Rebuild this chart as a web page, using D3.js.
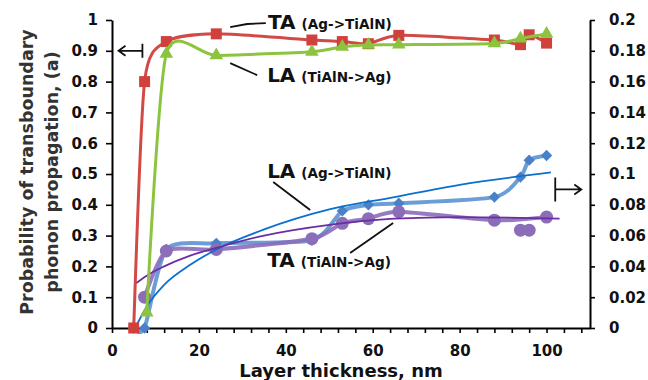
<!DOCTYPE html>
<html>
<head>
<meta charset="utf-8">
<script src="https://cdn.jsdelivr.net/npm/d3@7"></script>
<style>
  body { margin: 0; background: #fff; }
  svg text { font-family: "DejaVu Sans", sans-serif; font-weight: bold; }
</style>
</head>
<body>
<svg id="chart" width="648" height="380"></svg>
<script>
// TA (Ag->TiAlN), left axis
const taAgX = [5, 7.5, 12.5, 24, 46, 53, 59, 66, 88, 94, 96, 100];
const taAgY = [0, 0.8, 0.93, 0.955, 0.935, 0.93, 0.923, 0.95, 0.935, 0.92, 0.952, 0.925];
// LA (TiAlN->Ag), left axis
const laTiX = [8, 12.5, 24, 46, 53, 59, 66, 88, 94, 100];
const laTiY = [0.05, 0.89, 0.885, 0.897, 0.913, 0.919, 0.92, 0.924, 0.94, 0.955];
// LA (Ag->TiAlN), right axis
const laAgX = [5, 7.5, 12.5, 24, 46, 53, 59, 66, 88, 94, 96, 100];
const laAgY = [0, 0, 0.051, 0.055, 0.057, 0.076, 0.08, 0.081, 0.085, 0.098, 0.109, 0.112];
// TA (TiAlN->Ag), right axis
const taTiX = [7.5, 12.5, 24, 46, 53, 59, 66, 88, 100];
const taTiY = [0.02, 0.05, 0.051, 0.058, 0.068, 0.071, 0.0755, 0.07, 0.072];
const taTiExtraX = [94, 96];
const taTiExtraY = [0.0635, 0.0635];
// trend lines (right axis)
const blueTrendX = [5.5, 8, 12, 18, 24, 35, 50, 65, 80, 101];
const blueTrendY = [0.001, 0.014, 0.028, 0.041, 0.051, 0.064, 0.077, 0.085, 0.093, 0.101];
const purpleTrendX = [5.5, 8, 12, 18, 24, 35, 50, 65, 80, 103];
const purpleTrendY = [0.029, 0.034, 0.040, 0.047, 0.052, 0.060, 0.067, 0.071, 0.072, 0.071];

const xTicks = d3.range(0, 109, 4);
const yLeftTicks = d3.range(0, 11).map(d => d / 10);
const yRightTicks = d3.range(0, 11).map(d => d / 50);

const svg = d3.select('#chart');

const x = d3.scaleLinear().domain([0, 110]).range([112, 590]);
const yL = d3.scaleLinear().domain([0, 1]).range([328, 20]);
const yR = d3.scaleLinear().domain([0, 0.2]).range([328, 20]);

const zip = (xs, ys) => xs.map((v, i) => [v, ys[i]]);

// axes
const gx = svg.append('g')
  .attr('transform', `translate(0,${yL(0)})`)
  .call(d3.axisBottom(x).tickValues(xTicks).tickSize(5).tickSizeOuter(0).tickPadding(12)
    .tickFormat(d => d % 20 === 0 ? d : ''));
const gl = svg.append('g')
  .attr('transform', `translate(${x(0)},0)`)
  .call(d3.axisLeft(yL).tickValues(yLeftTicks).tickSize(6).tickSizeOuter(0).tickPadding(8)
    .tickFormat(d => +d.toFixed(1)));
const gr = svg.append('g')
  .attr('transform', `translate(${x(110)},0)`)
  .call(d3.axisRight(yR).tickValues(yRightTicks).tickSize(5).tickSizeOuter(0).tickPadding(14)
    .tickFormat(d => +d.toFixed(2)));

[gx, gl, gr].forEach(g => {
  g.select('.domain').attr('stroke', '#000').attr('stroke-width', 2);
  g.selectAll('.tick line').attr('stroke', '#000').attr('stroke-width', 1.6);
  g.selectAll('.tick text').attr('fill', '#111').style('font-size', '15px');
});

// axis titles
svg.append('text')
  .attr('x', 341).attr('y', 377)
  .attr('text-anchor', 'middle')
  .style('font-size', '18px')
  .attr('fill', '#111')
  .text('Layer thickness, nm');

const yTitle = svg.append('text')
  .attr('transform', 'translate(0,172) rotate(-90)')
  .attr('text-anchor', 'middle')
  .style('font-size', '17.5px')
  .attr('fill', '#333');
yTitle.append('tspan').attr('x', 0).attr('y', 33).text('Probability of transboundary');
yTitle.append('tspan').attr('x', 0).attr('y', 58).text('phonon propagation, (a)');

// lines
const smooth = (ys) => d3.line().x(d => x(d[0])).y(d => ys(d[1])).curve(d3.curveCardinal.tension(0.3));
const trend = (ys) => d3.line().x(d => x(d[0])).y(d => ys(d[1])).curve(d3.curveMonotoneX);

// blue thick
svg.append('path')
  .attr('d', smooth(yR)(zip(laAgX, laAgY)))
  .attr('fill', 'none').attr('stroke', '#5b93d3').attr('stroke-width', 4).attr('opacity', 0.9);
// purple thick
svg.append('path')
  .attr('d', smooth(yR)(zip(taTiX, taTiY)))
  .attr('fill', 'none').attr('stroke', '#8c6dbb').attr('stroke-width', 4).attr('opacity', 0.9);

svg.append('g').selectAll('path')
  .data(zip(laAgX, laAgY))
  .join('path')
  .attr('d', d3.symbol(d3.symbolSquare, 64))
  .attr('transform', d => `translate(${x(d[0])},${yR(d[1])}) rotate(45)`)
  .attr('fill', '#4a80c6');

svg.append('g').selectAll('circle')
  .data(zip(taTiX, taTiY).concat(zip(taTiExtraX, taTiExtraY)))
  .join('circle')
  .attr('cx', d => x(d[0])).attr('cy', d => yR(d[1]))
  .attr('r', 6.5)
  .attr('fill', '#8b6db8');

// trend lines
svg.append('path')
  .attr('d', trend(yR)(zip(blueTrendX, blueTrendY)))
  .attr('fill', 'none').attr('stroke', '#0a70cf').attr('stroke-width', 1.8);
svg.append('path')
  .attr('d', trend(yR)(zip(purpleTrendX, purpleTrendY)))
  .attr('fill', 'none').attr('stroke', '#6b2da1').attr('stroke-width', 1.8);

// red TA (Ag->TiAlN)
svg.append('path')
  .attr('d', smooth(yL)(zip(taAgX, taAgY)))
  .attr('fill', 'none').attr('stroke', '#d24a46').attr('stroke-width', 3);
svg.append('g').selectAll('path')
  .data(zip(taAgX, taAgY))
  .join('path')
  .attr('d', d3.symbol(d3.symbolSquare, 121))
  .attr('transform', d => `translate(${x(d[0])},${yL(d[1])})`)
  .attr('fill', '#d0413d');

// green LA (TiAlN->Ag)
svg.append('path')
  .attr('d', smooth(yL)(zip(laTiX, laTiY)))
  .attr('fill', 'none').attr('stroke', '#8cc43f').attr('stroke-width', 3);
svg.append('g').selectAll('path')
  .data(zip(laTiX, laTiY))
  .join('path')
  .attr('d', d3.symbol(d3.symbolTriangle, 80))
  .attr('transform', d => `translate(${x(d[0])},${yL(d[1])})`)
  .attr('fill', '#8cc43f');

// annotations (data coordinates on the left scale)
const leaders = [
  [[27.2, 0.977], [31.1, 0.987], [35.4, 0.99]],
  [[27.2, 0.86], [33.4, 0.821]],
  [[37.1, 0.474], [45.6, 0.383]],
  [[54.8, 0.2435], [64.7, 0.341]]
];
svg.append('g').selectAll('path')
  .data(leaders)
  .join('path')
  .attr('d', d3.line().x(d => x(d[0])).y(d => yL(d[1])))
  .attr('fill', 'none').attr('stroke', '#111').attr('stroke-width', 1.8);

const labels = [
  { x: 35.9, y: 0.97, big: 'TA', small: '(Ag->TiAlN)' },
  { x: 35.7, y: 0.799, big: 'LA', small: '(TiAlN->Ag)' },
  { x: 35.7, y: 0.487, big: 'LA', small: '(Ag->TiAlN)' },
  { x: 35.7, y: 0.198, big: 'TA', small: '(TiAlN->Ag)' }
];
labels.forEach(l => {
  const t = svg.append('text')
    .attr('x', x(l.x)).attr('y', yL(l.y))
    .attr('fill', '#111');
  t.append('tspan').style('font-size', '20px').text(l.big);
  t.append('tspan').attr('dx', 6).style('font-size', '13.6px').text(l.small);
});

// axis arrows
const arrows = svg.append('g').attr('fill', 'none').attr('stroke', '#111').attr('stroke-width', 1.8);
const ya = yL(0.9);
arrows.append('path')
  .attr('d', `M${x(7)},${ya - 7} V${ya + 7} M${x(7)},${ya} H${x(1.5)} M${x(1.5) + 7},${ya - 5} L${x(1.5)},${ya} L${x(1.5) + 7},${ya + 5}`);
const yb = yR(0.09);
arrows.append('path')
  .attr('d', `M${x(102)},${yb - 12} V${yb + 12} M${x(102)},${yb} H${x(108)} M${x(108) - 7},${yb - 5} L${x(108)},${yb} L${x(108) - 7},${yb + 5}`);
</script>
</body>
</html>
